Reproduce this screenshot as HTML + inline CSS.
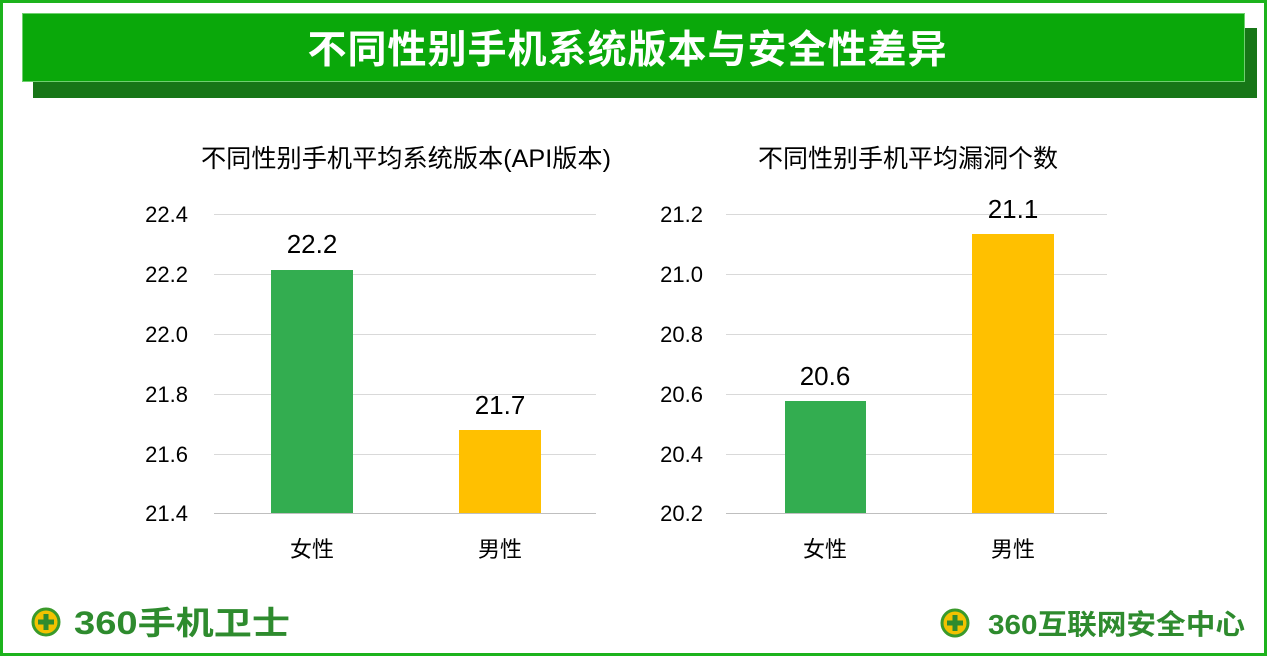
<!DOCTYPE html>
<html><head><meta charset="utf-8"><style>
body{margin:0;width:1267px;height:656px;background:#fff;position:relative;overflow:hidden;font-family:"Liberation Sans","Noto Sans CJK SC",sans-serif;}
.abs{position:absolute}
</style></head><body>
<div class="abs" style="left:0;top:0;width:1261px;height:650px;border:3px solid #1cb31c;"></div>
<div class="abs" style="left:33px;top:28px;width:1224px;height:70px;background:#177617;"></div>
<div class="abs" style="left:22px;top:13px;width:1223px;height:69px;background:#0aa80a;border:1px solid #6fd06f;box-sizing:border-box;color:#fff;font-weight:bold;font-size:39px;text-align:center;line-height:67px;font-family:'Noto Sans CJK SC',sans-serif;letter-spacing:1px;padding-right:12px;">不同性别手机系统版本与安全性差异</div>
<svg class="abs" style="left:0;top:0" width="1267" height="656" font-family="Liberation Sans, Noto Sans CJK SC, sans-serif">
<g stroke="#d9d9d9" stroke-width="1">
<line x1="214" x2="596" y1="214.5" y2="214.5"/><line x1="214" x2="596" y1="274.5" y2="274.5"/><line x1="214" x2="596" y1="334.5" y2="334.5"/><line x1="214" x2="596" y1="394.5" y2="394.5"/><line x1="214" x2="596" y1="454.5" y2="454.5"/>
<line x1="726" x2="1107" y1="214.5" y2="214.5"/><line x1="726" x2="1107" y1="274.5" y2="274.5"/><line x1="726" x2="1107" y1="334.5" y2="334.5"/><line x1="726" x2="1107" y1="394.5" y2="394.5"/><line x1="726" x2="1107" y1="454.5" y2="454.5"/>
</g>
<line x1="214" x2="596" y1="513.5" y2="513.5" stroke="#bfbfbf"/>
<line x1="726" x2="1107" y1="513.5" y2="513.5" stroke="#bfbfbf"/>
<rect x="271" y="270" width="82" height="243" fill="#33ad50"/>
<rect x="459" y="430" width="82" height="83" fill="#ffc000"/>
<rect x="785" y="401" width="81" height="112" fill="#33ad50"/>
<rect x="972" y="234" width="82" height="279" fill="#ffc000"/>
<g font-size="22" fill="#000" text-anchor="end">
<text x="188" y="222">22.4</text><text x="188" y="282">22.2</text><text x="188" y="342">22.0</text><text x="188" y="402">21.8</text><text x="188" y="462">21.6</text><text x="188" y="521">21.4</text>
<text x="703" y="222">21.2</text><text x="703" y="282">21.0</text><text x="703" y="342">20.8</text><text x="703" y="402">20.6</text><text x="703" y="462">20.4</text><text x="703" y="521">20.2</text>
</g>
<g font-size="26" fill="#000" text-anchor="middle">
<text x="312" y="253">22.2</text><text x="500" y="414">21.7</text><text x="825" y="385">20.6</text><text x="1013" y="218">21.1</text>
</g>
<g font-size="22" fill="#000" text-anchor="middle">
<text x="312" y="557">女性</text><text x="500" y="557">男性</text><text x="825" y="557">女性</text><text x="1013" y="557">男性</text>
<text x="406" y="167" font-size="25" textLength="410" lengthAdjust="spacingAndGlyphs">不同性别手机平均系统版本(API版本)</text>
<text x="908" y="167" font-size="25">不同性别手机平均漏洞个数</text>
</g>
<circle cx="46" cy="622" r="13" fill="#f2c200" stroke="#3a9a2a" stroke-width="3"/>
<path d="M46 614v16M38 622h16" stroke="#2e8b2e" stroke-width="5"/>
<text x="74" y="634" font-size="32" font-weight="bold" fill="#2e8b2e" textLength="216" lengthAdjust="spacingAndGlyphs">360手机卫士</text>
<circle cx="955" cy="623" r="13" fill="#f2c200" stroke="#3a9a2a" stroke-width="3"/>
<path d="M955 615v16M947 623h16" stroke="#2e8b2e" stroke-width="5"/>
<text x="988" y="634" font-size="28" font-weight="bold" fill="#2e8b2e" textLength="257" lengthAdjust="spacingAndGlyphs">360互联网安全中心</text>
</svg>
</body></html>
